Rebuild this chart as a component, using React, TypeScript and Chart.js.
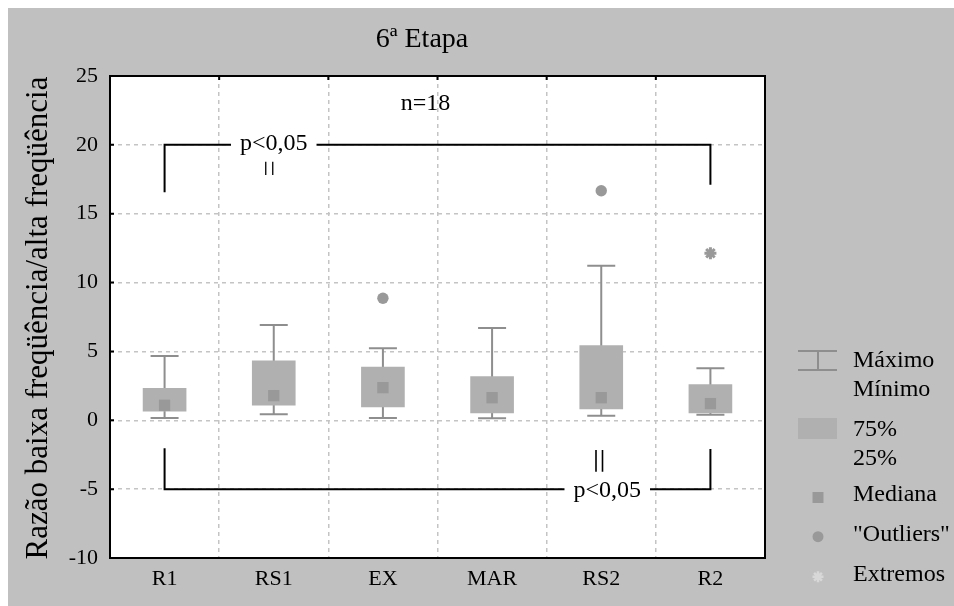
import React, { useEffect, useRef } from "react";
import { Chart, registerables } from "chart.js";
Chart.register(...registerables);

const categories = ["R1", "RS1", "EX", "MAR", "RS2", "R2"];
const minVals = [0.17, 0.43, 0.17, 0.14, 0.33, 0.41];
const q1Vals = [0.67, 1.09, 0.97, 0.53, 0.82, 0.53];
const medianVals = [1.09, 1.79, 2.37, 1.64, 1.64, 1.21];
const q3Vals = [2.32, 4.31, 3.87, 3.17, 5.42, 2.59];
const maxVals = [4.67, 6.92, 5.23, 6.7, 11.23, 3.78];
const outlierVals = [null, null, 8.86, null, 16.67, null];
const extremeVals = [null, null, null, null, null, 12.13];
const yTicks = { min: -10, max: 25, step: 5 };

const titleText = "6ª Etapa";
const yTitleText = "Razão baixa freqüência/alta freqüência";
const nText = "n=18";
const nValue = 23;
const pText = "p<0,05";
// bracket: [fromIndex, toIndex, level, leftLegEnd, rightLegEnd, textIndex]
const topBracket = [0, 5, 20, 16.56, 17.1, 1];
const bottomBracket = [0, 5, -5, -2.03, -2.08, 4];
// marks: [index, from, to]
const topMark = [1, 18.78, 17.81];
const bottomMark = [4, -2.16, -3.73];
const legendLabels = ["Máximo", "Mínimo", "75%", "25%", "Mediana", "\"Outliers\"", "Extremos"];

const BG = "#c0c0c0";
const BOX = "#b0b0b0";
const WHISK = "#8e8e8e";
const MARK = "#999999";
const SERIF = "'Liberation Serif', 'DejaVu Serif', serif";

const decorPlugin = {
  id: "decor",
  beforeDraw(chart: any) {
    const { ctx, chartArea: a, width, height } = chart;
    ctx.save();
    ctx.fillStyle = BG;
    ctx.fillRect(0, 0, width, height);
    ctx.fillStyle = "#ffffff";
    ctx.fillRect(a.left, a.top, a.right - a.left, a.bottom - a.top);
    ctx.restore();
  },
  beforeDatasetsDraw(chart: any) {
    const { ctx } = chart;
    const xs = chart.scales.x;
    const ys = chart.scales.y;
    ctx.save();
    ctx.strokeStyle = WHISK;
    ctx.lineWidth = 2;
    categories.forEach((_, i) => {
      const x = xs.getPixelForValue(i);
      const yMin = ys.getPixelForValue(minVals[i]);
      const yMax = ys.getPixelForValue(maxVals[i]);
      ctx.beginPath();
      ctx.moveTo(x, yMin);
      ctx.lineTo(x, yMax);
      ctx.moveTo(x - 14, yMin);
      ctx.lineTo(x + 14, yMin);
      ctx.moveTo(x - 14, yMax);
      ctx.lineTo(x + 14, yMax);
      ctx.stroke();
    });
    ctx.restore();
  },
  afterDatasetsDraw(chart: any) {
    const { ctx, chartArea: a } = chart;
    const xs = chart.scales.x;
    const ys = chart.scales.y;
    ctx.save();
    ctx.font = `24px ${SERIF}`;
    ctx.fillStyle = "#000";
    ctx.textBaseline = "middle";
    ctx.textAlign = "center";
    const drawBracket = (b: number[], textDy: number, textDx: number) => {
      const [i0, i1, lvl, l0, l1, ti] = b;
      const x0 = xs.getPixelForValue(i0);
      const x1 = xs.getPixelForValue(i1);
      const y = ys.getPixelForValue(lvl);
      ctx.strokeStyle = "#000";
      ctx.lineWidth = 2;
      ctx.beginPath();
      ctx.moveTo(x0, ys.getPixelForValue(l0));
      ctx.lineTo(x0, y);
      ctx.lineTo(x1, y);
      ctx.lineTo(x1, ys.getPixelForValue(l1));
      ctx.stroke();
      const tx = xs.getPixelForValue(ti) + textDx;
      const w = ctx.measureText(pText).width;
      ctx.fillStyle = "#fff";
      ctx.fillRect(tx - w / 2 - 9, y - 4, w + 18, 8);
      ctx.fillStyle = "#000";
      ctx.fillText(pText, tx, y + textDy);
    };
    drawBracket(topBracket, -1, 0);
    drawBracket(bottomBracket, 2, 6);
    const drawMark = (m: number[], gap: number, lw: number, dx: number) => {
      const x = xs.getPixelForValue(m[0]) + dx;
      ctx.strokeStyle = "#000";
      ctx.lineWidth = lw;
      ctx.beginPath();
      ctx.moveTo(x - gap / 2, ys.getPixelForValue(m[1]));
      ctx.lineTo(x - gap / 2, ys.getPixelForValue(m[2]));
      ctx.moveTo(x + gap / 2, ys.getPixelForValue(m[1]));
      ctx.lineTo(x + gap / 2, ys.getPixelForValue(m[2]));
      ctx.stroke();
    };
    drawMark(topMark, 7, 1.3, -4.5);
    drawMark(bottomMark, 6.5, 1.6, -2);
    ctx.fillText(nText, (a.left + a.right) / 2 - 12, ys.getPixelForValue(nValue));
    ctx.restore();
  },
  afterDraw(chart: any) {
    const { ctx, chartArea: a } = chart;
    const xs = chart.scales.x;
    const ys = chart.scales.y;
    ctx.save();
    // frame
    ctx.strokeStyle = "#000";
    ctx.lineWidth = 2;
    ctx.strokeRect(a.left, a.top, a.right - a.left, a.bottom - a.top);
    // inner ticks
    ctx.beginPath();
    for (let v = yTicks.min; v <= yTicks.max; v += yTicks.step) {
      const y = ys.getPixelForValue(v);
      ctx.moveTo(a.left, y);
      ctx.lineTo(a.left + 4, y);
    }
    for (let i = 0; i < categories.length - 1; i++) {
      const x = (xs.getPixelForValue(i) + xs.getPixelForValue(i + 1)) / 2;
      ctx.moveTo(x, a.top);
      ctx.lineTo(x, a.top + 4);
    }
    ctx.stroke();
    // titles
    ctx.fillStyle = "#000";
    ctx.textAlign = "center";
    ctx.textBaseline = "middle";
    ctx.font = `28px ${SERIF}`;
    ctx.fillText(titleText, 414, 32);
    ctx.save();
    ctx.translate(31, (a.top + a.bottom) / 2 + 1);
    ctx.rotate(-Math.PI / 2);
    ctx.font = `31px ${SERIF}`;
    ctx.fillText(yTitleText, 0, 0);
    ctx.restore();
    // legend
    const lx = a.right + 33;
    const cx = lx + 20;
    const tx = a.right + 88;
    ctx.strokeStyle = WHISK;
    ctx.lineWidth = 2;
    ctx.beginPath();
    ctx.moveTo(lx, 343);
    ctx.lineTo(lx + 39, 343);
    ctx.moveTo(lx, 362);
    ctx.lineTo(lx + 39, 362);
    ctx.moveTo(cx, 343);
    ctx.lineTo(cx, 362);
    ctx.stroke();
    ctx.fillStyle = BOX;
    ctx.fillRect(lx, 410, 39, 21);
    ctx.fillStyle = MARK;
    ctx.fillRect(cx - 5.5, 484, 11, 11);
    ctx.beginPath();
    ctx.arc(cx, 528.7, 5.5, 0, Math.PI * 2);
    ctx.fill();
    ctx.strokeStyle = "#d8d8d8";
    ctx.lineWidth = 2.5;
    ctx.beginPath();
    const sy = 568.7;
    for (let k = 0; k < 4; k++) {
      const ang = (k * Math.PI) / 4;
      ctx.moveTo(cx - 5.5 * Math.cos(ang), sy - 5.5 * Math.sin(ang));
      ctx.lineTo(cx + 5.5 * Math.cos(ang), sy + 5.5 * Math.sin(ang));
    }
    ctx.stroke();
    ctx.fillStyle = "#000";
    ctx.textAlign = "left";
    ctx.font = `24px ${SERIF}`;
    const ly = [353, 382, 422, 451, 487, 527, 567];
    legendLabels.forEach((t, i) => ctx.fillText(t, tx, ly[i]));
    ctx.restore();
  },
};

export default function App() {
  const ref = useRef<HTMLCanvasElement | null>(null);
  useEffect(() => {
    if (!ref.current) return;
    const chart = new Chart(ref.current, {
      type: "bar",
      data: {
        labels: categories,
        datasets: [
          {
            type: "bar",
            data: q1Vals.map((v, i) => [v, q3Vals[i]]) as any,
            backgroundColor: BOX,
            borderWidth: 0,
            barThickness: 43,
            order: 4,
          } as any,
          {
            type: "line",
            data: medianVals,
            showLine: false,
            pointStyle: "rect",
            pointRadius: 8,
            backgroundColor: MARK,
            borderWidth: 0,
            order: 1,
          },
          {
            type: "line",
            data: outlierVals,
            showLine: false,
            pointStyle: "circle",
            pointRadius: 5.7,
            backgroundColor: MARK,
            borderWidth: 0,
            order: 2,
          },
          {
            type: "line",
            data: extremeVals,
            showLine: false,
            pointStyle: "star",
            pointRadius: 6,
            borderColor: MARK,
            backgroundColor: MARK,
            borderWidth: 3,
            order: 3,
          },
        ],
      },
      options: {
        animation: false,
        responsive: false,
        devicePixelRatio: 1,
        layout: { padding: { left: 0, top: 68, right: 189, bottom: 0 } },
        plugins: { legend: { display: false }, title: { display: false }, tooltip: { enabled: false } },
        scales: {
          x: {
            type: "category",
            offset: true,
            grid: { offset: true, color: "#c4c4c4", lineWidth: 1.5, drawTicks: false } as any,
            border: { display: false, dash: [4, 4] },
            ticks: { color: "#000", font: { family: SERIF, size: 22 }, padding: 8 },
            afterFit: (s: any) => { s.height = 48; },
          },
          y: {
            min: yTicks.min,
            max: yTicks.max,
            grid: { color: "#c4c4c4", lineWidth: 1.5, drawTicks: false },
            border: { display: false, dash: [4, 4] },
            ticks: { stepSize: yTicks.step, color: "#000", font: { family: SERIF, size: 22 }, padding: 12 },
            afterFit: (s: any) => { s.width = 102; },
          },
        },
      },
      plugins: [decorPlugin],
    });
    return () => chart.destroy();
  }, []);
  return (
    <div style={{ position: "fixed", left: 8, top: 8, width: 946, height: 598 }}>
      <canvas ref={ref} width={946} height={598} style={{ display: "block", width: 946, height: 598 }} />
    </div>
  );
}
